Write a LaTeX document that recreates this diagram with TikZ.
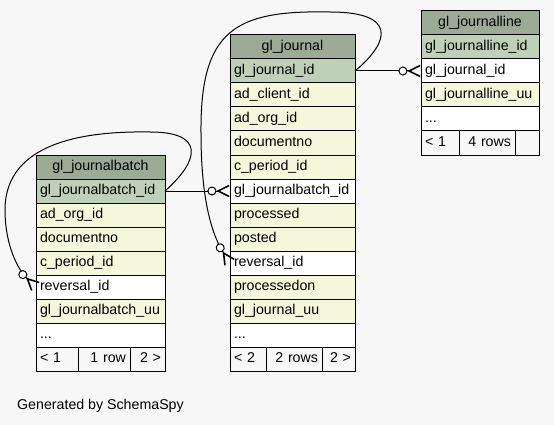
\documentclass[tikz,border=0pt]{standalone}
\usepackage{fontspec}
\setmainfont{Liberation Sans}
\usepackage{xcolor}
\usetikzlibrary{arrows.meta}
\definecolor{pagebg}{RGB}{247,247,247}
\definecolor{headfill}{RGB}{155,171,150}
\definecolor{keyfill}{RGB}{190,209,184}
\definecolor{colfill}{RGB}{244,247,218}
\hyphenpenalty=10000

\begin{document}
\begin{tikzpicture}[x = 1pt, y = -1pt,
    font = \fontsize{14.2pt}{17pt}\selectfont,
    cell/.style = {draw, line width = 1pt, anchor = north west, outer sep = 0pt,
        minimum height = 24pt, inner xsep = 4pt, inner ysep = 0pt,
        text height = 10.5pt, text depth = 3pt, text width = #1, align = left},
    headcell/.style = {cell = #1, fill = headfill, align = center},
    keycell/.style = {cell = #1, fill = keyfill},
    colcell/.style = {cell = #1, fill = colfill},
    fkcell/.style = {cell = #1, fill = white},
    footcell/.style = {cell = #1, fill = pagebg, align = right},
    fk/.style = {line width = 1pt,
        -{Circle[length = 9pt, fill = white] Straight Barb[reversed, length = 11pt, width = 11pt, line width = 1.6pt]}}
]
    \fill[pagebg] (0,0) rectangle (554,425);
    %
    % gl_journalbatch
    \node[headcell = 121pt] (jb0) at (36,155) {gl\_journalbatch};
    \node[keycell = 121pt] (jb1) at (jb0.south west) {gl\_journalbatch\_id};
    \node[colcell = 121pt] (jb2) at (jb1.south west) {ad\_org\_id};
    \node[colcell = 121pt] (jb3) at (jb2.south west) {documentno};
    \node[colcell = 121pt] (jb4) at (jb3.south west) {c\_period\_id};
    \node[fkcell = 121pt] (jb5) at (jb4.south west) {reversal\_id};
    \node[colcell = 121pt] (jb6) at (jb5.south west) {gl\_journalbatch\_uu};
    \node[fkcell = 121pt] (jb7) at (jb6.south west) {...};
    \node[footcell = 34pt, align = left] (jbprev) at (jb7.south west) {< 1};
    \node[footcell = 44pt] (jbrows) at (jbprev.north east) {1 row};
    \node[footcell = 27pt] (jbnext) at (jbrows.north east) {2 >};
    %
    % gl_journal
    \node[headcell = 117pt] (j0) at (230,35) {gl\_journal};
    \node[keycell = 117pt] (j1) at (j0.south west) {gl\_journal\_id};
    \node[colcell = 117pt] (j2) at (j1.south west) {ad\_client\_id};
    \node[colcell = 117pt] (j3) at (j2.south west) {ad\_org\_id};
    \node[colcell = 117pt] (j4) at (j3.south west) {documentno};
    \node[colcell = 117pt] (j5) at (j4.south west) {c\_period\_id};
    \node[fkcell = 117pt] (j6) at (j5.south west) {gl\_journalbatch\_id};
    \node[colcell = 117pt] (j7) at (j6.south west) {processed};
    \node[colcell = 117pt] (j8) at (j7.south west) {posted};
    \node[fkcell = 117pt] (j9) at (j8.south west) {reversal\_id};
    \node[colcell = 117pt] (j10) at (j9.south west) {processedon};
    \node[colcell = 117pt] (j11) at (j10.south west) {gl\_journal\_uu};
    \node[fkcell = 117pt] (j12) at (j11.south west) {...};
    \node[footcell = 28pt, align = left] (jprev) at (j12.south west) {< 2};
    \node[footcell = 48pt] (jrows) at (jprev.north east) {2 rows};
    \node[footcell = 25pt] (jnext) at (jrows.north east) {2 >};
    %
    % gl_journalline
    \node[headcell = 110pt] (jl0) at (421,11) {gl\_journalline};
    \node[keycell = 110pt] (jl1) at (jl0.south west) {gl\_journalline\_id};
    \node[fkcell = 110pt] (jl2) at (jl1.south west) {gl\_journal\_id};
    \node[colcell = 110pt] (jl3) at (jl2.south west) {gl\_journalline\_uu};
    \node[fkcell = 110pt] (jl4) at (jl3.south west) {...};
    \node[footcell = 30pt, align = left] (jlprev) at (jl4.south west) {< 1};
    \node[footcell = 48pt] (jlrows) at (jlprev.north east) {4 rows};
    \node[footcell = 16pt] (jlnext) at (jlrows.north east) {};
    %
    \node[anchor = base west, inner sep = 0pt] (credit) at (17,409) {Generated by SchemaSpy};
    %
    \draw[fk] (j1.east) -- (jl2.west);
    \draw[fk] (jb1.east) -- (j6.west);
    \draw[fk] (j1.east) .. controls (392,40) and (395,12) .. (330,12)
        .. controls (235,10) and (200,30) .. (201,133)
        .. controls (201,200) and (212,235) .. (j9.west);
    \draw[fk] (jb1.east) .. controls (200,160) and (205,132) .. (150,132)
        .. controls (90,131) and (5,140) .. (5,210)
        .. controls (5,245) and (18,270) .. (jb5.west);
\end{tikzpicture}
\end{document}
